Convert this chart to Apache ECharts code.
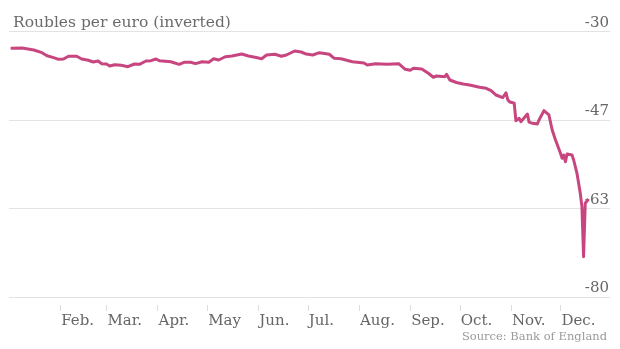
<!DOCTYPE html>
<html>
<head>
<meta charset="utf-8">
<script src="https://cdn.jsdelivr.net/npm/echarts@6/dist/echarts.min.js"></script>
<style>
html,body{margin:0;padding:0;background:#fff;}
#chart{width:620px;height:349px;}
</style>
</head>
<body>
<div id="chart"></div>
<script>
const titleText = 'Roubles per euro (inverted)';
const sourceText = 'Source: Bank of England';
const monthLabels = ['Jan.', 'Feb.', 'Mar.', 'Apr.', 'May', 'Jun.', 'Jul.', 'Aug.', 'Sep.', 'Oct.', 'Nov.', 'Dec.'];
const tickDates = ['2014-02-01','2014-03-01','2014-04-01','2014-05-01','2014-06-01','2014-07-01','2014-08-01','2014-09-01','2014-10-01','2014-11-01','2014-12-01'];
const yTicks = [-80, -30];

const dates = [
'2014-01-02','2014-01-09','2014-01-10','2014-01-16','2014-01-21','2014-01-24','2014-01-28','2014-01-31',
'2014-02-03','2014-02-06','2014-02-11','2014-02-14','2014-02-18','2014-02-21','2014-02-24','2014-02-26',
'2014-03-01','2014-03-03','2014-03-06','2014-03-10','2014-03-14','2014-03-18','2014-03-21','2014-03-25','2014-03-28','2014-03-31',
'2014-04-02','2014-04-04','2014-04-09','2014-04-14','2014-04-17','2014-04-21','2014-04-24','2014-04-28',
'2014-05-02','2014-05-05','2014-05-08','2014-05-12','2014-05-16','2014-05-22','2014-05-26','2014-05-30',
'2014-06-03','2014-06-06','2014-06-11','2014-06-15','2014-06-18','2014-06-23','2014-06-27','2014-06-30',
'2014-07-04','2014-07-08','2014-07-14','2014-07-17','2014-07-21','2014-07-22','2014-07-28',
'2014-08-04','2014-08-06','2014-08-11','2014-08-18','2014-08-25','2014-08-26','2014-08-29',
'2014-09-01','2014-09-03','2014-09-08','2014-09-12','2014-09-15','2014-09-17','2014-09-22','2014-09-23','2014-09-25','2014-09-29',
'2014-10-03','2014-10-07','2014-10-13','2014-10-14','2014-10-17','2014-10-20','2014-10-23','2014-10-27','2014-10-29','2014-10-30','2014-10-31',
'2014-11-03','2014-11-04','2014-11-06','2014-11-07','2014-11-11','2014-11-12','2014-11-14','2014-11-17','2014-11-18','2014-11-21','2014-11-24','2014-11-26','2014-11-28',
'2014-12-01','2014-12-02','2014-12-03','2014-12-04','2014-12-05','2014-12-08','2014-12-09','2014-12-11','2014-12-13','2014-12-14','2014-12-15','2014-12-16','2014-12-18'
];
const values = [
-33.16,-33.11,-33.16,-33.48,-33.99,-34.56,-34.93,-35.24,
-35.18,-34.67,-34.67,-35.18,-35.42,-35.74,-35.56,-36.06,
-36.12,-36.50,-36.25,-36.37,-36.63,-36.12,-36.18,-35.56,-35.50,-35.18,
-35.50,-35.56,-35.69,-36.18,-35.80,-35.80,-36.06,-35.69,
-35.80,-35.12,-35.37,-34.75,-34.61,-34.24,-34.61,-34.86,
-35.12,-34.43,-34.29,-34.67,-34.43,-33.67,-33.86,-34.24,
-34.43,-33.99,-34.29,-35.05,-35.12,-34.80,-35.69,
-35.93,-36.31,-36.06,-36.18,-36.06,-36.25,-37.12,
-37.31,-36.93,-37.06,-37.87,-38.62,-38.38,-38.51,-38.06,-39.13,-39.60,
-39.89,-40.08,-40.51,-40.83,-40.70,-41.15,-41.96,-42.47,-41.53,-42.77,-43.22,
-43.52,-46.80,-46.35,-46.99,-45.54,-47.08,-47.29,-47.42,-46.67,-44.91,-45.72,-48.55,-50.43,
-52.94,-53.88,-53.26,-54.52,-53.07,-53.26,-54.20,-56.70,-60.47,-62.99,-72.41,-62.35,-61.54
];

function parseLocal(s) {
  const p = s.split('-').map(Number);
  return new Date(p[0], p[1] - 1, p[2]).getTime();
}
const tickValues = tickDates.map(parseLocal);
const seriesData = dates.map((d, i) => [parseLocal(d), values[i]]);

const serif = 'DejaVu Serif';
const chart = echarts.init(document.getElementById('chart'), null, {renderer: 'canvas'});
chart.setOption({
  animation: false,
  backgroundColor: '#ffffff',
  title: [
    {text: titleText, left: 8, top: 10,
     textStyle: {fontFamily: serif, fontSize: 15.5, fontWeight: 'normal', color: '#6b6b6b'}},
    {text: sourceText, right: 8, bottom: 1,
     textStyle: {fontFamily: serif, fontSize: 11.5, fontWeight: 'normal', color: '#9a9a9a'}}
  ],
  grid: {left: 9, right: 10, top: 31.5, bottom: 52, containLabel: false},
  xAxis: {
    type: 'value',
    min: parseLocal('2014-01-01'),
    max: parseLocal('2014-12-31'),
    scale: true,
    offset: 8,
    axisLine: {show: false},
    splitLine: {show: false},
    axisTick: {show: true, length: 6, customValues: tickValues, lineStyle: {color: '#dddddd', width: 1}},
    axisLabel: {
      customValues: tickValues,
      align: 'left',
      margin: 9,
      padding: [0, 0, 0, 1],
      fontFamily: serif, fontSize: 15, color: '#666666',
      formatter: function (v) { return monthLabels[new Date(v).getMonth()]; }
    }
  },
  yAxis: {
    type: 'value',
    position: 'right',
    min: yTicks[0], max: yTicks[1],
    interval: (yTicks[1] - yTicks[0]) / 3,
    axisLine: {show: false},
    axisTick: {show: false},
    splitLine: {show: true, lineStyle: {color: '#e3e3e3', width: 1}},
    axisLabel: {
      inside: true,
      margin: 1,
      verticalAlign: 'bottom',
      padding: [0, 0, 1, 0],
      fontFamily: serif, fontSize: 15, color: '#666666',
      formatter: function (v) { return String(Math.round(v)); }
    }
  },
  series: [{
    type: 'line',
    data: seriesData,
    showSymbol: false,
    symbol: 'none',
    lineStyle: {color: '#c8467f', width: 3, join: 'round'},
    z: 3
  }]
});
</script>
</body>
</html>
